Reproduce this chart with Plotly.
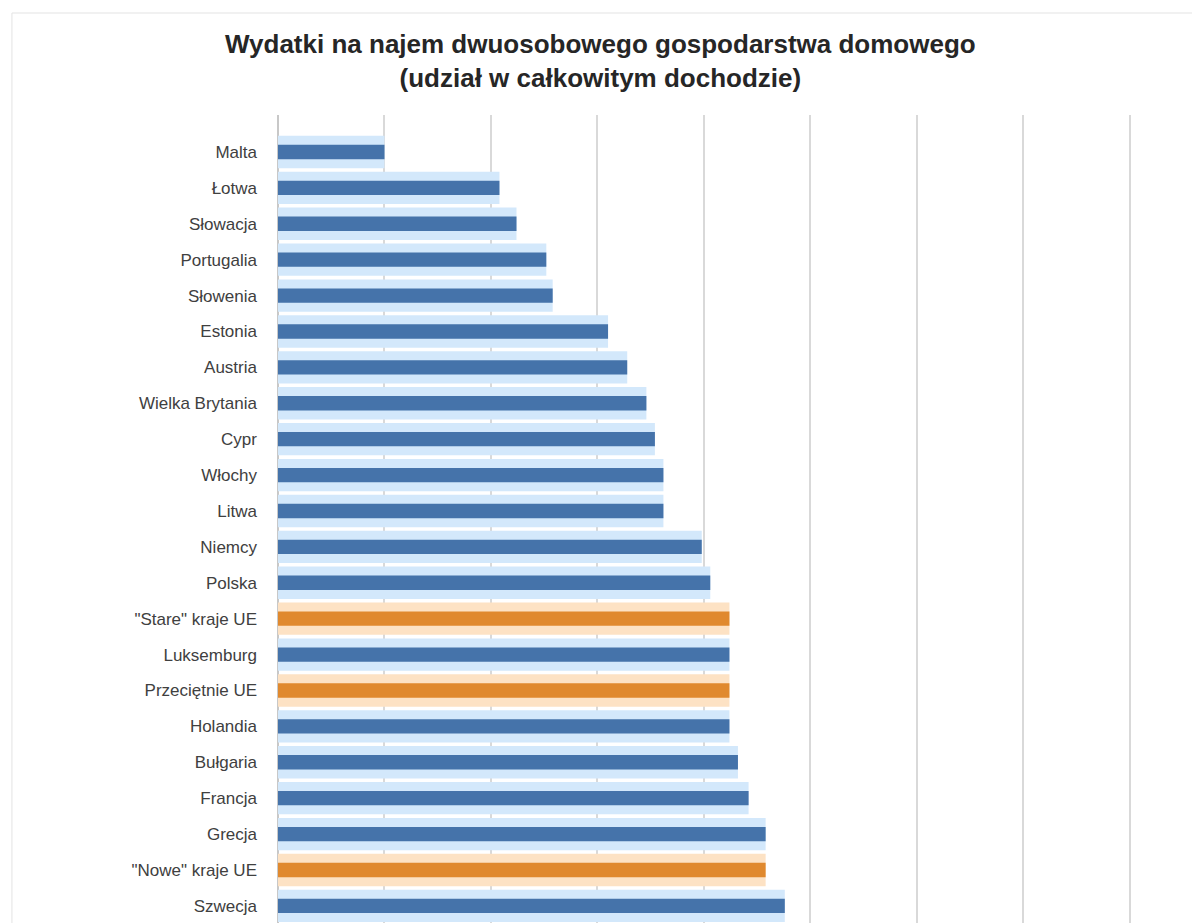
import plotly.graph_objects as go

# kraje i wartości (udział w %), od najmniejszego do największego
kraje = ["Malta", "Łotwa", "Słowacja", "Portugalia", "Słowenia", "Estonia",
         "Austria", "Wielka Brytania", "Cypr", "Włochy", "Litwa", "Niemcy",
         "Polska", '"Stare" kraje UE', "Luksemburg", "Przeciętnie UE",
         "Holandia", "Bułgaria", "Francja", "Grecja", '"Nowe" kraje UE',
         "Szwecja"]
wartosci = [5.0, 10.4, 11.2, 12.6, 12.9, 15.5, 16.4, 17.3, 17.7, 18.1, 18.1,
            19.9, 20.3, 21.2, 21.2, 21.2, 21.2, 21.6, 22.1, 22.9, 22.9, 23.8]
grupy_ue = ['"Stare" kraje UE', "Przeciętnie UE", '"Nowe" kraje UE']

kolor_ciemny = ["#e0892e" if k in grupy_ue else "#4573aa" for k in kraje]
kolor_jasny = ["#fde2c4" if k in grupy_ue else "#d3e8fb" for k in kraje]

fig = go.Figure()
# jasna "poświata" słupka (gradient w oryginale)
fig.add_trace(go.Bar(x=wartosci, y=kraje, orientation="h", width=0.9,
                     marker=dict(color=kolor_jasny, line=dict(width=0)),
                     hoverinfo="skip", showlegend=False))
# ciemny rdzeń słupka
fig.add_trace(go.Bar(x=wartosci, y=kraje, orientation="h", width=0.4,
                     marker=dict(color=kolor_ciemny, line=dict(width=0)),
                     showlegend=False))

fig.update_layout(
    width=1200, height=923,
    barmode="overlay",
    plot_bgcolor="white", paper_bgcolor="white",
    margin=dict(l=270, r=25, t=107, b=0),
    font=dict(family="Liberation Sans, Arial", color="#404040"),
    annotations=[
        dict(text="<b>Wydatki na najem dwuosobowego gospodarstwa domowego<br>"
                  "(udział w całkowitym dochodzie)</b>",
             x=0.356, y=1.066, xref="paper", yref="paper", showarrow=False,
             xanchor="center", yanchor="middle",
             font=dict(size=26, color="#262626")),
    ],
)
fig.update_xaxes(range=[0, 42.5], dtick=5, showticklabels=False,
                 showgrid=True, gridcolor="#d9d9d9", gridwidth=2,
                 zeroline=True, zerolinecolor="#c8c8c8", zerolinewidth=2,
                 fixedrange=True)
fig.update_yaxes(type="category", range=[21.70, -1.03], showgrid=False,
                 tickfont=dict(size=17, color="#404040"), ticks="",
                 ticklabelstandoff=20, fixedrange=True)

fig.add_shape(type="rect", xref="paper", yref="paper", x0=-0.294, x1=1.013,
              y0=-0.01, y1=1.125, line=dict(color="#e3e3e3", width=1))

fig.write_html("out.html")
